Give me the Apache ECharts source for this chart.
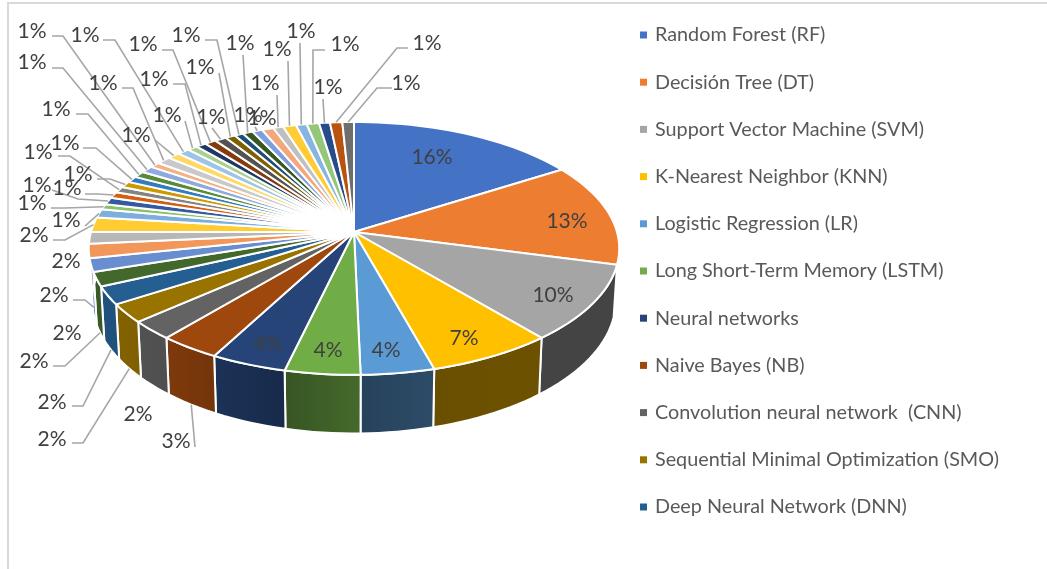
<!DOCTYPE html>
<html><head><meta charset="utf-8">
<style>html,body{margin:0;padding:0;background:#fff}#c{width:1047px;height:569px}</style>
<script src="https://cdn.jsdelivr.net/npm/echarts@6/dist/echarts.min.js"></script>
</head><body><div id="c"></div>
<script>
// ---------- data ----------
const categories = ['Random Forest (RF)','Decisión Tree (DT)','Support Vector Machine (SVM)','K-Nearest Neighbor (KNN)','Logistic Regression (LR)','Long Short-Term Memory (LSTM)','Neural networks','Naive Bayes (NB)','Convolution neural network  (CNN)','Sequential Minimal Optimization (SMO)','Deep Neural Network (DNN)'];
const values = [16,13.1,9.8,6.8,3.95,4.05,4.1,3.3,2.4,2.4,2.3,1.8,1.7,1.8,1.5,1.9,1.1,.7,.9,.8,.8,.8,.8,.8,.9,.7,1,.85,.85,.7,.7,.8,.8,.7,.6,.7,.7,.8,.7,.9,.75,.85,.75,.85,.8];
const labels = ['16%','13%','10%','7%','4%','4%','4%','3%','2%','2%','2%','2%','2%','2%','2%','2%','1%','1%','1%','1%','1%','1%','1%','1%','1%','1%','1%','1%','1%','1%','1%','1%','1%','1%','1%','1%','1%','1%','1%','1%','1%','1%','1%','1%','1%'];
// ---------- styles and layout ----------
const colors = ['#4472C4','#ED7D31','#A5A5A5','#FFC000','#5B9BD5','#70AD47','#264478','#9E480E','#636363','#997300','#255E91','#43682B','#698ED0','#F1975A','#B7B7B7','#FFCD33','#7CAFDD','#8CC168','#335AA1','#D26012','#848484','#CC9A00','#327DC2','#5A8A39','#8FAADC','#F4B183','#C9C9C9','#FFD966','#9DC3E6','#A9D18E','#203864','#843C0C','#525252','#7F6000','#1F4E79','#385723','#7F9FDC','#F4A77B','#BFBFBF','#FFCC33','#85B5E0','#95C77A','#264C8C','#B85410','#6E6E6E'];
const labelPos = [[432,157],[567,221],[553,295],[464,338],[386,350],[328,350],[268,344],[176,441],[138,414],[52,439],[52,402],[34,361],[54,295],[67,333],[66,261],[34,235],[66,220],[32,203],[37,185],[67,188],[38,152],[78,174],[65,143],[56,109],[32,62],[32,31],[103,83],[136,135],[85,35],[167,115],[154,79],[143,44],[211,117],[200,67],[186,35],[240,43],[262,118],[248,115],[265,83],[277,49],[301,31],[345,44],[328,87],[427,43],[406,83]];
const leaderPaths = [null,null,null,null,null,null,null,[[195,447]],null,[[72,443],[83,443]],[[72,406],[83,406]],[[53,366],[65,366]],[[73,300],[85,300]],null,null,[[53,240],[65,240]],[[85,226]],[[51,208],[65,208]],[[52,190],[78,199]],[[85,194],[98,194]],[[58,156],[70,156]],[[97,179],[110,179]],[[83,148],[96,148]],[[76,114],[88,114]],[[52,68],[63,68]],[[52,36],[63,36]],[[122,88],[133,88]],[[155,140]],[[103,40],[115,40]],[[185,121]],[[173,84],[185,84]],[[162,50],[173,50]],[[212,128]],[[219,73]],[[205,40],[217,40]],[[243,55]],[[255,127]],null,[[277,95]],[[288,61]],[[300,43]],[[325,50],[313,50]],[[323,99]],[[408,48],[397,48]],[[392,88],[377,88]]];
const leaderDrop = {7:1,9:1,10:1,11:1,12:.8};
const shadeStops = [[0,.41],[160,.41],[175,.46],[190,.58],[200,.68],[220,.8],[235,.85],[270,.9],[360,.9]];
const CX=354,CY=232,RX=263,RY=124.3,K=.13,DEPTH=51,SHRINK=.987;
// ---------- geometry derived from values ----------
const total = values.reduce((a,b)=>a+b,0);
const starts = []; values.reduce((a,b,i)=>{starts[i]=a;return a+b;},0);
function rim(share){const t=share*2*Math.PI,u=Math.sin(t),v=-Math.cos(t),w=1-K*v;return [CX+RX*u/w,CY+RY*v/w,w];}
function rimLow(share){const p=rim(share);return [CX+(p[0]-CX)*SHRINK,p[1]+DEPTH/p[2]];}
function arc(i,fn){const a=starts[i]/total,b=(starts[i]+values[i])/total,n=Math.max(2,Math.ceil((b-a)*180)),o=[];for(let k=0;k<=n;k++)o.push(fn(a+(b-a)*k/n));return o;}
function shade(share){const d=share*360;for(let k=1;k<shadeStops.length;k++){const p=shadeStops[k-1],q=shadeStops[k];if(d<=q[0])return p[1]+(q[1]-p[1])*(d-p[0])/(q[0]-p[0]);}return .9;}
function dark(hex,f){const n=parseInt(hex.slice(1),16);return `rgb(${Math.round((n>>16)*f)},${Math.round(((n>>8)&255)*f)},${Math.round((n&255)*f)})`;}
const topRender=(i)=>()=>({type:'polygon',shape:{points:[[CX,CY],...arc(i,s=>rim(s).slice(0,2))]},style:{fill:colors[i],stroke:'#fff',lineWidth:2,lineJoin:'round'}});
const sideRender=(p,api)=>{const i=p.dataIndex,a=starts[i]/total,b=(starts[i]+values[i])/total;
  return {type:'polygon',shape:{points:[...arc(i,s=>rim(s).slice(0,2)),...arc(i,rimLow).reverse()]},
    style:{fill:new echarts.graphic.LinearGradient(a<.5?0:1,0,a<.5?1:0,0,[{offset:0,color:dark(colors[i],shade(a))},{offset:1,color:dark(colors[i],shade(b))}]),stroke:'#fff',lineWidth:2,lineJoin:'round'}};};
const labelRender=(p,api)=>{const i=p.dataIndex,kids=[];
  if(leaderPaths[i]){const mid=(starts[i]+values[i]/2)/total,t=leaderDrop[i]||0,r=rim(mid),l=rimLow(mid);
    kids.push({type:'polyline',shape:{points:[...leaderPaths[i],[r[0]+(l[0]-r[0])*t,r[1]+(l[1]-r[1])*t]]},style:{fill:null,stroke:'#A6A6A6',lineWidth:1.6}});}
  kids.push({type:'text',x:labelPos[i][0],y:labelPos[i][1],style:{text:labels[i],fill:'#404040',font:'21px Lato',align:'center',verticalAlign:'middle'}});
  return {type:'group',children:kids};};
const seriesNames = values.map((_,i)=>categories[i]||('Item '+(i+1)));
const chart = echarts.init(document.getElementById('c'),null,{renderer:'canvas'});
chart.setOption({
  animation:false,
  backgroundColor:'#fff',
  graphic:[{type:'polyline',z:0,shape:{points:[[8,569],[8,3],[1047,3]]},style:{fill:null,stroke:'#D9D9D9',lineWidth:2}}],
  legend:{orient:'vertical',left:635,top:20,itemWidth:7,itemHeight:7,itemGap:27.2,icon:'rect',selectedMode:false,
    data:categories.map((n,i)=>({name:n,itemStyle:{color:colors[i]}})),
    textStyle:{fontFamily:'Lato',fontSize:19.8,color:'#595959',height:20,lineHeight:20,padding:[0,0,0,3]}},
  series:[
    {name:'sides',type:'custom',coordinateSystem:'none',z:2,silent:true,data:values.map(v=>[v]),renderItem:sideRender},
    ...values.map((v,i)=>({name:seriesNames[i],type:'custom',coordinateSystem:'none',z:3,silent:true,itemStyle:{color:colors[i]},data:[[v]],renderItem:topRender(i)})),
    {name:'labels',type:'custom',coordinateSystem:'none',z:4,silent:true,data:values.map(v=>[v]),renderItem:labelRender}
  ]
});
</script></body></html>
